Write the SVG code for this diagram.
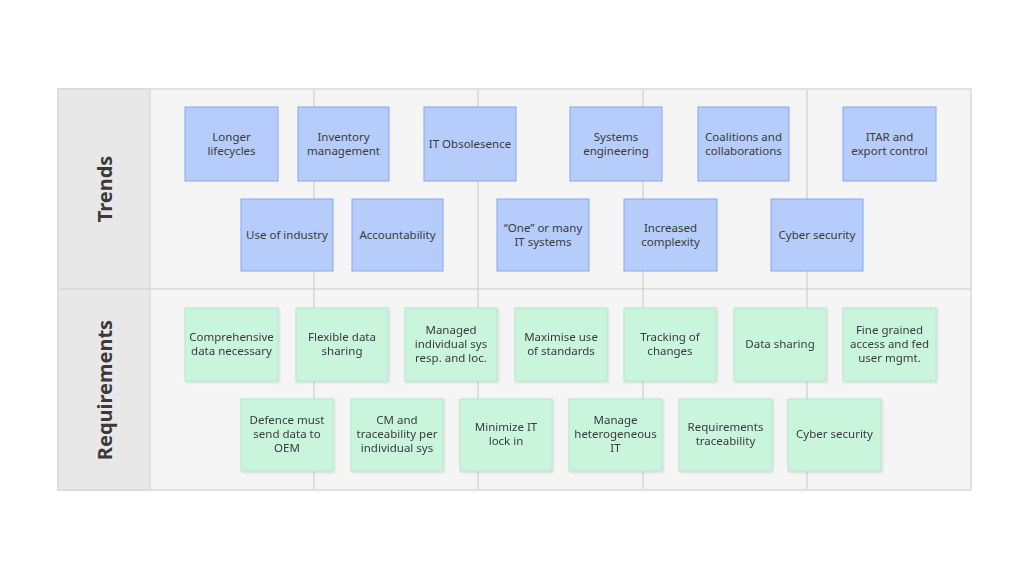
<svg xmlns="http://www.w3.org/2000/svg" width="1030" height="579" viewBox="0 0 1030 579">
<defs>
<style>
.lane{fill:#f5f5f5;stroke:#dadada;stroke-width:1.5}
.head{fill:#e8e8e8;stroke:#dadada;stroke-width:1.5}
.grid{stroke:#cfcfcf;stroke-width:1.2}
.ht{font-family:"Noto Sans","Open Sans",sans-serif;font-weight:bold;font-size:20px;fill:#3a3a3a;text-anchor:middle}
.t{fill:#b6cdfb;stroke:#86a8ef;stroke-width:1}
.r{fill:#c9f5dd;stroke:#b5e8cb;stroke-width:1}
.lbl{font-family:"Noto Sans","Open Sans",sans-serif;font-size:11.5px;fill:#3a3a3a;text-anchor:middle}
</style>
<filter id="sh" x="-10%" y="-10%" width="130%" height="130%">
<feDropShadow dx="0.8" dy="1" stdDeviation="0.8" flood-color="#000" flood-opacity="0.15"/>
</filter>
</defs>
<rect width="1030" height="579" fill="#ffffff"/>
<g id="lanes">
<rect class="lane" x="58" y="89" width="913" height="200"/>
<rect class="lane" x="58" y="289" width="913" height="201"/>
<rect class="head" x="58" y="89" width="92" height="200"/>
<rect class="head" x="58" y="289" width="92" height="201"/>
<text class="ht" transform="translate(112,189) rotate(-90)">Trends</text>
<text class="ht" transform="translate(112,390) rotate(-90)">Requirements</text>
</g>
<g id="connectors">
<line class="grid" x1="314" y1="90" x2="314" y2="489"/>
<line class="grid" x1="478" y1="90" x2="478" y2="489"/>
<line class="grid" x1="643" y1="90" x2="643" y2="489"/>
<line class="grid" x1="807" y1="90" x2="807" y2="489"/>
</g>
<g id="t1"><rect class="t" x="185" y="107" width="93" height="74"/><text class="lbl" x="231.5" y="141">Longer</text><text class="lbl" x="231.5" y="155">lifecycles</text></g>
<g id="t2"><rect class="t" x="298" y="107" width="91" height="74"/><text class="lbl" x="343.5" y="141">Inventory</text><text class="lbl" x="343.5" y="155">management</text></g>
<g id="t3"><rect class="t" x="424" y="107" width="92" height="74"/><text class="lbl" x="470" y="148">IT Obsolesence</text></g>
<g id="t4"><rect class="t" x="570" y="107" width="92" height="74"/><text class="lbl" x="616" y="141">Systems</text><text class="lbl" x="616" y="155">engineering</text></g>
<g id="t5"><rect class="t" x="698" y="107" width="91" height="74"/><text class="lbl" x="743.5" y="141">Coalitions and</text><text class="lbl" x="743.5" y="155">collaborations</text></g>
<g id="t6"><rect class="t" x="843" y="107" width="93" height="74"/><text class="lbl" x="889.5" y="141">ITAR and</text><text class="lbl" x="889.5" y="155">export control</text></g>
<g id="t7"><rect class="t" x="241" y="199" width="92" height="72"/><text class="lbl" x="287" y="239">Use of industry</text></g>
<g id="t8"><rect class="t" x="352" y="199" width="91" height="72"/><text class="lbl" x="397.5" y="239">Accountability</text></g>
<g id="t9"><rect class="t" x="497" y="199" width="92" height="72"/><text class="lbl" x="543" y="232">“One” or many</text><text class="lbl" x="543" y="246">IT systems</text></g>
<g id="t10"><rect class="t" x="624" y="199" width="93" height="72"/><text class="lbl" x="670.5" y="232">Increased</text><text class="lbl" x="670.5" y="246">complexity</text></g>
<g id="t11"><rect class="t" x="771" y="199" width="92" height="72"/><text class="lbl" x="817" y="239">Cyber security</text></g>
<g id="r1" filter="url(#sh)"><rect class="r" x="185" y="308" width="93" height="73"/><text class="lbl" x="231.5" y="341">Comprehensive</text><text class="lbl" x="231.5" y="355">data necessary</text></g>
<g id="r2" filter="url(#sh)"><rect class="r" x="296" y="308" width="92" height="73"/><text class="lbl" x="342" y="341">Flexible data</text><text class="lbl" x="342" y="355">sharing</text></g>
<g id="r3" filter="url(#sh)"><rect class="r" x="405" y="308" width="92" height="73"/><text class="lbl" x="451" y="334">Managed</text><text class="lbl" x="451" y="348">individual sys</text><text class="lbl" x="451" y="362">resp. and loc.</text></g>
<g id="r4" filter="url(#sh)"><rect class="r" x="515" y="308" width="92" height="73"/><text class="lbl" x="561" y="341">Maximise use</text><text class="lbl" x="561" y="355">of standards</text></g>
<g id="r5" filter="url(#sh)"><rect class="r" x="624" y="308" width="92" height="73"/><text class="lbl" x="670" y="341">Tracking of</text><text class="lbl" x="670" y="355">changes</text></g>
<g id="r6" filter="url(#sh)"><rect class="r" x="734" y="308" width="92" height="73"/><text class="lbl" x="780" y="348">Data sharing</text></g>
<g id="r7" filter="url(#sh)"><rect class="r" x="843" y="308" width="93" height="73"/><text class="lbl" x="889.5" y="334">Fine grained</text><text class="lbl" x="889.5" y="348">access and fed</text><text class="lbl" x="889.5" y="362">user mgmt.</text></g>
<g id="r8" filter="url(#sh)"><rect class="r" x="241" y="399" width="92" height="72"/><text class="lbl" x="287" y="424">Defence must</text><text class="lbl" x="287" y="438">send data to</text><text class="lbl" x="287" y="452">OEM</text></g>
<g id="r9" filter="url(#sh)"><rect class="r" x="351" y="399" width="92" height="72"/><text class="lbl" x="397" y="424">CM and</text><text class="lbl" x="397" y="438">traceability per</text><text class="lbl" x="397" y="452">individual sys</text></g>
<g id="r10" filter="url(#sh)"><rect class="r" x="460" y="399" width="92" height="72"/><text class="lbl" x="506" y="431">Minimize IT</text><text class="lbl" x="506" y="445">lock in</text></g>
<g id="r11" filter="url(#sh)"><rect class="r" x="569" y="399" width="93" height="72"/><text class="lbl" x="615.5" y="424">Manage</text><text class="lbl" x="615.5" y="438">heterogeneous</text><text class="lbl" x="615.5" y="452">IT</text></g>
<g id="r12" filter="url(#sh)"><rect class="r" x="679" y="399" width="93" height="72"/><text class="lbl" x="725.5" y="431">Requirements</text><text class="lbl" x="725.5" y="445">traceability</text></g>
<g id="r13" filter="url(#sh)"><rect class="r" x="788" y="399" width="93" height="72"/><text class="lbl" x="834.5" y="438">Cyber security</text></g>
</svg>
